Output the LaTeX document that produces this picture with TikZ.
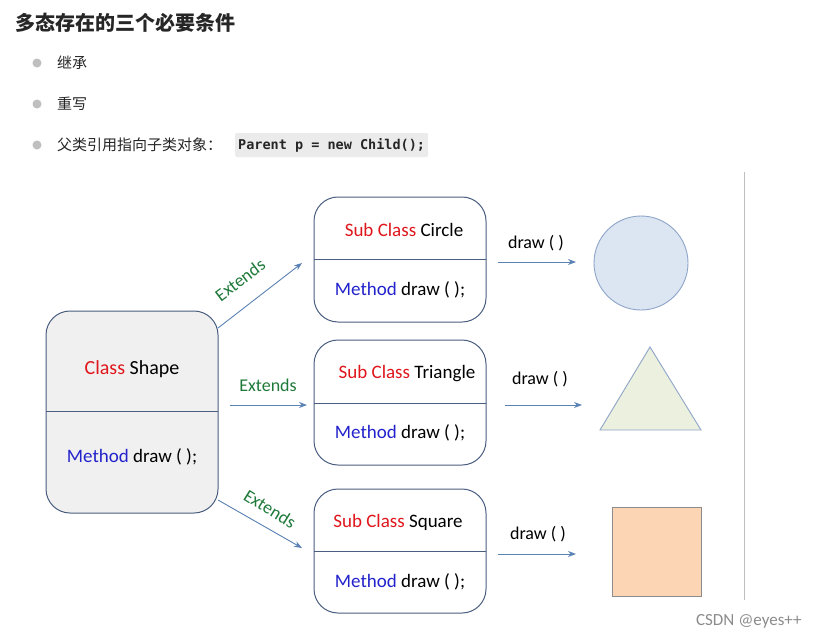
\documentclass[tikz,border=0pt]{standalone}
\usepackage{fontspec}
\setmainfont{Carlito}
\newfontfamily\cjk{Noto Sans CJK SC}
\setmonofont{DejaVu Sans Mono}
\usetikzlibrary{arrows.meta}
\definecolor{bord}{HTML}{4A5F80}
\definecolor{arr}{HTML}{5B82B5}
\definecolor{ext}{HTML}{1F7A3A}
\definecolor{cred}{HTML}{E0161C}
\definecolor{cblue}{HTML}{2222CC}
\tikzset{
 box/.style={draw=bord,line width=1pt,rounded corners=24pt},
 con/.style={draw=arr,line width=0.9pt,-{Stealth[length=8pt,width=6pt]}},
 txt/.style={font=\fontsize{19}{22}\selectfont,inner sep=1pt},
 lab/.style={font=\fontsize{18}{20}\selectfont,inner sep=1pt},
 extl/.style={font=\fontsize{18}{20}\selectfont,text=ext,inner sep=1pt},
 bul/.style={circle,fill=black!25,minimum size=9pt,inner sep=0},
 btx/.style={anchor=west,font=\cjk\fontsize{15}{17}\selectfont,text=black!85,inner sep=0}
}
\begin{document}
\begin{tikzpicture}[x=1pt,y=-1pt]
\useasboundingbox[fill=white] (0,0) rectangle (818,642);
\node[anchor=west,font=\cjk\bfseries\fontsize{20}{22}\selectfont,text=black!85,inner sep=0] (title) at (15,23) {多态存在的三个必要条件};
\node[bul] (b1) at (37,63) {}; \node[btx] (t1) at (57,63) {继承};
\node[bul] (b2) at (37,104) {}; \node[btx] (t2) at (57,104) {重写};
\node[bul] (b3) at (37,145) {}; \node[btx] (t3) at (57,145) {父类引用指向子类对象：};
\node[anchor=west,fill=black!8,rounded corners=2pt,font=\ttfamily\bfseries\fontsize{13.5}{15}\selectfont,text=black!85,minimum height=24pt,inner xsep=3pt] (code) at (235,145) {Parent p = new Child();};
\draw[black!25,line width=1pt] (744,172) -- (744,600);
% parent
\draw[box,fill=black!6] (46,311) rectangle (218,513);
\draw[bord,line width=1pt] (46,411) -- (218,411);
\node[font=\fontsize{20}{22}\selectfont] (shape) at (132,369) {\textcolor{cred}{Class} Shape};
\node[txt] (pm) at (132,457) {\textcolor{cblue}{Method} draw ( );};
% subs
\foreach \yt/\yd/\yb in {197/259/322, 340/403/465, 489/551/613}{
  \draw[box,fill=white] (314,\yt) rectangle (486,\yb);
  \draw[bord,line width=1pt] (314,\yd) -- (486,\yd);
}
\node[txt] (cc) at (404,230) {\textcolor{cred}{Sub Class} Circle};
\node[txt] (cm) at (400,290) {\textcolor{cblue}{Method} draw ( );};
\node[txt] (tc) at (407,374) {\textcolor{cred}{Sub Class} Triangle};
\node[txt] (tm) at (400,433) {\textcolor{cblue}{Method} draw ( );};
\node[txt] (sc) at (398,522) {\textcolor{cred}{Sub Class} Square};
\node[txt] (sm) at (400,582) {\textcolor{cblue}{Method} draw ( );};
% extends arrows
\coordinate (e1a) at (218,328); \coordinate (e1b) at (302,263);
\coordinate (e2a) at (230,405); \coordinate (e2b) at (307,405);
\coordinate (e3a) at (218,500); \coordinate (e3b) at (302,548);
\draw[con] (e1a) -- (e1b);
\draw[con] (e2a) -- (e2b);
\draw[con] (e3a) -- (e3b);
\node[extl,rotate=37] (x1) at (240,280) {Extends};
\node[extl] (x2) at (268,385) {Extends};
\node[extl,rotate=-32] (x3) at (270,509) {Extends};
% draw arrows
\coordinate (d1a) at (498,262); \coordinate (d1b) at (576,262);
\coordinate (d2a) at (505,405); \coordinate (d2b) at (582,405);
\coordinate (d3a) at (498,554); \coordinate (d3b) at (576,554);
\draw[con] (d1a) -- (d1b); \draw[con] (d2a) -- (d2b); \draw[con] (d3a) -- (d3b);
\node[lab] (l1) at (536,243) {draw ( )};
\node[lab] (l2) at (540,379) {draw ( )};
\node[lab] (l3) at (538,534) {draw ( )};
% shapes
\draw[fill={rgb,255:red,220;green,230;blue,242},draw={rgb,255:red,142;green,164;blue,200},line width=0.9pt] (641,263) circle (47);
\draw[fill={rgb,255:red,235;green,241;blue,222},draw={rgb,255:red,142;green,164;blue,200},line width=0.9pt] (650,347) -- (701,430) -- (600,430) -- cycle;
\draw[fill={rgb,255:red,252;green,213;blue,180},draw=black!45,line width=0.9pt] (612,507) rectangle (701,596);
\node[anchor=east,font=\fontsize{17}{18}\selectfont,text=black!45] (wm) at (805,621) {CSDN @eyes++};
\end{tikzpicture}
\end{document}
